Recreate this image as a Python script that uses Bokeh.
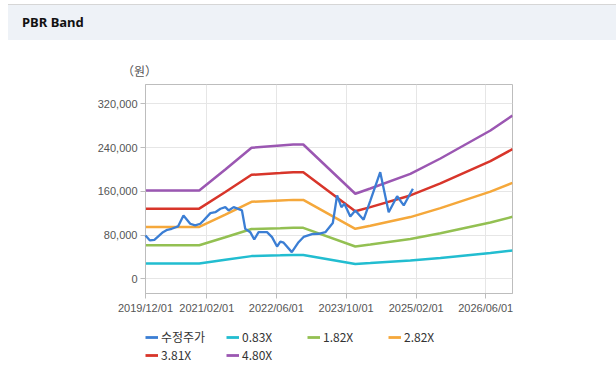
import pandas as pd
from bokeh.plotting import figure
from bokeh.models import (Range1d, FixedTicker, DatetimeTickFormatter, NumeralTickFormatter,
                          Legend, LegendItem, Div)
from bokeh.layouts import column
from bokeh.embed import file_html
from bokeh.resources import INLINE

# ---------------- data ----------------
band_dates = ["2019-12-01", "2020-12-10", "2021-06-10", "2021-12-10", "2022-06-29",
              "2022-09-27", "2022-12-06", "2023-12-04", "2024-03-18", "2024-12-22",
              "2025-07-20", "2026-07-04", "2026-12-05"]
band_083 = [27900, 27900, 34600, 41400, 42800, 43500, 43500, 26900, 28600, 33200, 38000, 46900, 51700]
band_182 = [61200, 61200, 75800, 90900, 92400, 93100, 93100, 59000, 62600, 72800, 83400, 102800, 113300]
band_282 = [94900, 94900, 117500, 140800, 143200, 144300, 144300, 91400, 97100, 112800, 129200, 159300, 175500]
band_381 = [128200, 128200, 158800, 190200, 193500, 195000, 195000, 123400, 131100, 152400, 174600, 215300, 237100]
band_480 = [161500, 161500, 200000, 239600, 243800, 245600, 245600, 155500, 165200, 192000, 220000, 271200, 298700]

price_dates = ["2019-12-01", "2020-01-01", "2020-02-01", "2020-04-01", "2020-05-01", "2020-06-01",
               "2020-07-15", "2020-08-22", "2020-10-08", "2020-11-12", "2020-12-17", "2021-01-09",
               "2021-02-26", "2021-04-01", "2021-05-07", "2021-06-10", "2021-07-03", "2021-08-07",
               "2021-10-04", "2021-10-27", "2021-12-01", "2021-12-29", "2022-01-28", "2022-03-28",
               "2022-05-02", "2022-06-06", "2022-06-29", "2022-07-22", "2022-09-17", "2022-11-03",
               "2022-12-08", "2023-02-05", "2023-03-23", "2023-05-09", "2023-06-30", "2023-07-30",
               "2023-08-29", "2023-09-19", "2023-10-30", "2023-12-04", "2024-01-31", "2024-03-18",
               "2024-05-26", "2024-07-24", "2024-09-21", "2024-11-06", "2025-01-09"]
price_vals = [79000, 70000, 71300, 85200, 89600, 91400,
              95700, 115800, 100600, 97500, 100600, 106600,
              120000, 121800, 128000, 131000, 125000, 131000,
              125000, 91400, 85200, 71900, 85200, 85200,
              76100, 59000, 68000, 66000, 48700, 66900,
              76500, 81500, 82300, 85200, 102000, 152400,
              131000, 137200, 114000, 125000, 108000, 143000,
              195000, 121800, 151000, 134100, 164600]

x_tick_labels = ["2019-12-01", "2021-02-01", "2022-06-01", "2023-10-01", "2025-02-01", "2026-06-01"]
y_ticks = [0, 80000, 160000, 240000, 320000]

series_names = ["수정주가", "0.83X", "1.82X", "2.82X", "3.81X", "4.80X"]
series_colors = ["#3b7ed4", "#22bdd0", "#93c052", "#f5a83b", "#d8352a", "#9b57b2"]

# ---------------- main figure ----------------
bd = pd.to_datetime(band_dates)
pdates = pd.to_datetime(price_dates)
tick_ms = [pd.Timestamp(d).value / 1e6 for d in x_tick_labels]

p = figure(width=600, height=240, x_axis_type="datetime",
           output_backend="svg", toolbar_location=None,
           x_range=Range1d(pd.Timestamp("2019-12-01"), pd.Timestamp("2026-12-05")),
           y_range=Range1d(-27000, 355400),
           min_border_left=145, min_border_right=88, min_border_top=4, min_border_bottom=27)
p.margin = 0
p.background_fill_color = "white"
p.border_fill_color = "white"
p.outline_line_color = "#bdbdbd"
p.outline_line_width = 1

renderers = [p.line(pdates, price_vals, line_color=series_colors[0], line_width=2.3)]
for vals, col in zip([band_083, band_182, band_282, band_381, band_480], series_colors[1:]):
    renderers.append(p.line(bd, vals, line_color=col, line_width=2.5))
renderers[0].level = "overlay"

p.xaxis.ticker = FixedTicker(ticks=tick_ms)
p.xaxis.formatter = DatetimeTickFormatter(days="%Y/%m/%d", months="%Y/%m/%d", years="%Y/%m/%d",
                                          hours="%Y/%m/%d", minutes="%Y/%m/%d", seconds="%Y/%m/%d",
                                          milliseconds="%Y/%m/%d", microseconds="%Y/%m/%d")
p.yaxis.ticker = FixedTicker(ticks=y_ticks)
p.yaxis.formatter = NumeralTickFormatter(format="0,0")

for ax in (p.xaxis[0], p.yaxis[0]):
    ax.axis_line_color = "#bdbdbd"
    ax.major_tick_line_color = "#bdbdbd"
    ax.major_tick_out = 5
    ax.major_tick_in = 0
    ax.minor_tick_line_color = None
    ax.major_label_text_font = "Liberation Sans"
    ax.major_label_text_font_size = "11px"
    ax.major_label_text_color = "#555555"
    ax.major_label_standoff = 3

p.xgrid.ticker = FixedTicker(ticks=tick_ms)
p.ygrid.ticker = FixedTicker(ticks=y_ticks)
p.xgrid.grid_line_color = "#e6e6e6"
p.ygrid.grid_line_color = "#e6e6e6"

# ---------------- legend figure (frame aligned with main frame) ----------------
lf = figure(width=600, height=45, output_backend="svg", toolbar_location=None,
            x_range=Range1d(0, 1), y_range=Range1d(0, 1),
            min_border_left=145, min_border_right=88, min_border_top=0, min_border_bottom=0)
lf.margin = 0
lf.axis.visible = False
lf.grid.visible = False
lf.outline_line_color = None
lf.border_fill_color = "white"
lf.background_fill_color = "white"
# legend-only sample lines, placed outside the visible range
leg_renderers = [lf.line([5, 6], [5, 6], line_color=c, line_width=2.8) for c in series_colors]
items = [LegendItem(label=n, renderers=[rr]) for n, rr in zip(series_names, leg_renderers)]
legend = Legend(items=items, location=(0, 2), orientation="horizontal", ncols=4,
                glyph_width=13, glyph_height=14, label_standoff=3, label_width=64,
                label_height=14, spacing=1, padding=0, margin=0,
                label_text_font="Noto Sans CJK KR", label_text_font_size="12px",
                label_text_color="#333333", border_line_color=None,
                background_fill_alpha=0)
lf.add_layout(legend, "center")

# ---------------- header texts ----------------
title = Div(text="PBR Band", width=608, height=36, margin=(4, 0, 0, 8),
            styles={"background-color": "#eef2f7", "border-top": "1px solid #d6d6d6",
                    "font-family": "Noto Sans", "font-weight": "bold", "font-size": "13px",
                    "color": "#111111", "padding-left": "14px", "line-height": "34px",
                    "box-sizing": "border-box"})
unit = Div(text="（원）", width=200, height=40, margin=(0, 0, 0, 0),
           styles={"font-family": "Noto Sans CJK KR", "font-size": "12px", "color": "#555555",
                   "padding-left": "122px", "padding-top": "23px", "box-sizing": "border-box",
                   "line-height": "16px"})

layout = column(title, unit, p, lf, spacing=0)
open("out.html", "w").write(file_html(layout, INLINE))
